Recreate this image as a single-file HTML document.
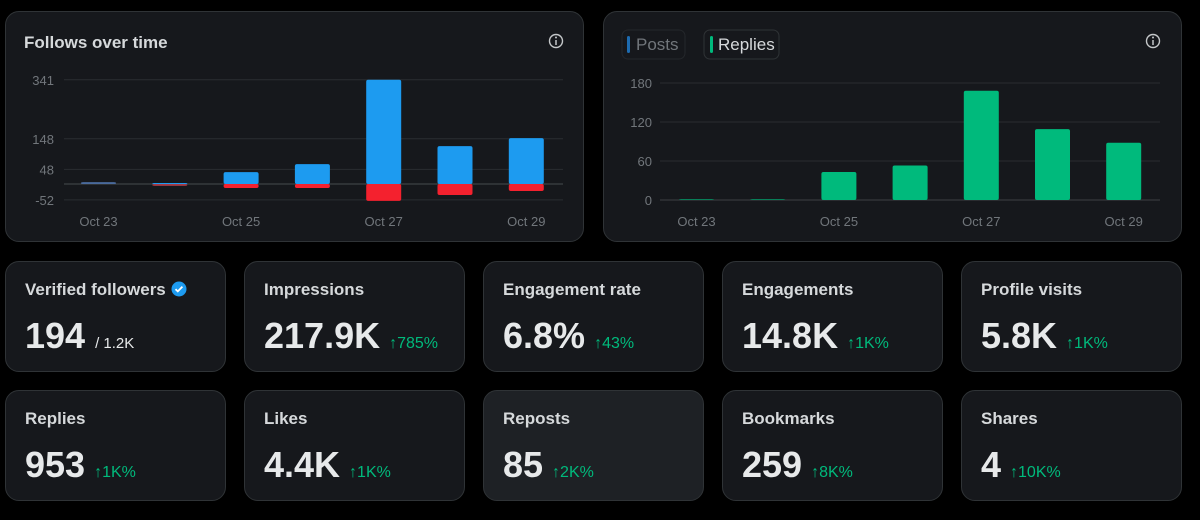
<!DOCTYPE html>
<html><head><meta charset="utf-8">
<style>
body{margin:0;width:1200px;height:520px;background:#000;font-family:"Liberation Sans",sans-serif;position:relative;overflow:hidden;color:#e7e9ea}
.card{position:absolute;background:#16181c;border:1px solid #2f3336;border-radius:14px;box-sizing:border-box}
.stat{width:221px;height:111px}
.stat .t{position:absolute;left:19px;top:18px;font-size:17px;font-weight:bold;color:#d6d9db}
.stat .v{position:absolute;left:19px;top:53px;font-size:36px;font-weight:bold;color:#e7e9ea;white-space:nowrap}
.stat .d{font-size:16px;font-weight:normal;color:#00ba7c;margin-left:9px}
.stat .s{font-size:15px;font-weight:normal;color:#e7e9ea;margin-left:10px}
svg text{font-family:"Liberation Sans",sans-serif}
</style></head><body>
<div class="card" style="left:5px;top:11px;width:579px;height:231px"></div>
<div class="card" style="left:603px;top:11px;width:579px;height:231px"></div>
<svg width="1200" height="250" style="position:absolute;left:0;top:0">
<text x="24" y="48" font-size="17" font-weight="bold" fill="#d6d9db">Follows over time</text>
<g><circle cx="556" cy="41" r="6.5" fill="none" stroke="#c4c7c9" stroke-width="1.4"/><line x1="556" y1="40" x2="556" y2="45" stroke="#c4c7c9" stroke-width="1.5"/><circle cx="556" cy="37.5" r="1" fill="#c4c7c9"/></g>
<g><circle cx="1153" cy="41" r="6.5" fill="none" stroke="#c4c7c9" stroke-width="1.4"/><line x1="1153" y1="40" x2="1153" y2="45" stroke="#c4c7c9" stroke-width="1.5"/><circle cx="1153" cy="37.5" r="1" fill="#c4c7c9"/></g>
<g><rect x="622" y="30" width="63" height="29" rx="6" fill="#16181c" stroke="#24272b"/><rect x="627" y="36" width="3" height="17" rx="1.5" fill="#1d6bb0"/><text x="636" y="50" font-size="17" fill="#71767b">Posts</text></g>
<g><rect x="704" y="30" width="75" height="29" rx="6" fill="#16181c" stroke="#2f3336"/><rect x="710" y="36" width="3" height="17" rx="1.5" fill="#00ba7c"/><text x="718" y="50" font-size="17" fill="#d6d9db">Replies</text></g>
<g id="left"></g><g id="right"></g>
</svg>
<script>
const NS="http://www.w3.org/2000/svg";
const dates=["Oct 23","Oct 24","Oct 25","Oct 26","Oct 27","Oct 28","Oct 29"];
const gained=[6,0,39,65,341,124,150];
const lost=[0,-6,-13,-13,-55,-36,-23];
const replies=[1,1,43,53,168,109,88];
const leftTicks=[341,148,48,-52];
const rightTicks=[180,120,60,0];
function mk(p,tag,a){const e=document.createElementNS(NS,tag);for(const k in a)e.setAttribute(k,a[k]);p.appendChild(e);return e;}
const L=document.getElementById('left');
const ly=v=>184-v*0.3057, lx=i=>98.5+i*71.3;
leftTicks.forEach(t=>{const g=mk(L,'line',{x1:64,x2:563,y1:ly(t),y2:ly(t),stroke:'#2a2d31','stroke-width':1});


const tx=mk(L,'text',{x:54,y:ly(t)+5,'font-size':13,fill:'#71767b','text-anchor':'end'});tx.textContent=t;

});
const z=mk(L,'line',{x1:64,x2:563,y1:ly(0),y2:ly(0),stroke:'#3e4144','stroke-width':1.2});
dates.forEach((d,i)=>{
 const h=Math.max(gained[i]*0.3057,1);
 const b=mk(L,'rect',{x:lx(i)-17.5,y:ly(0)-h,width:35,height:h,rx:2,fill:i==0?'#4a6a9c':'#1d9bf0'});
 
 
 const h2=Math.max(-lost[i]*0.3057,i==0?0:1);
 const r=mk(L,'rect',{x:lx(i)-17.5,y:ly(0),width:35,height:h2,rx:2,fill:i==1?'#a33a45':'#f4212e'});
 
 
 if(i%2==0){const t=mk(L,'text',{x:lx(i),y:226,'font-size':13,fill:'#71767b','text-anchor':'middle'});t.textContent=d;
 
 }
});
const R=document.getElementById('right');
const ry=v=>200-v*0.65, rx=i=>696.5+i*71.2;
rightTicks.forEach(t=>{const g=mk(R,'line',{x1:660,x2:1160,y1:ry(t),y2:ry(t),stroke:t==0?'#3e4144':'#2a2d31','stroke-width':1});


const tx=mk(R,'text',{x:652,y:ry(t)+5,'font-size':13,fill:'#71767b','text-anchor':'end'});tx.textContent=t;

});
dates.forEach((d,i)=>{
 const h=replies[i]*0.65;
 const b=mk(R,'rect',{x:rx(i)-17.5,y:ry(0)-h,width:35,height:h,rx:2,fill:'#00ba7c'});
 
 
 if(i%2==0){const t=mk(R,'text',{x:rx(i),y:226,'font-size':13,fill:'#71767b','text-anchor':'middle'});t.textContent=d;
 
 }
});
</script>
<div class="card stat" style="left:5px;top:261px"><div class="t">Verified followers <svg width="16" height="16" viewBox="0 0 16 16" style="vertical-align:-2px"><circle cx="8" cy="8" r="7.5" fill="#1d9bf0"/><path d="M4.5 8.2l2.3 2.2 4.6-4.8" stroke="#fff" stroke-width="1.8" fill="none"/></svg></div><div class="v">194<span class="s">/ 1.2K</span></div></div>
<div class="card stat" style="left:244px;top:261px"><div class="t">Impressions</div><div class="v">217.9K<span class="d">↑785%</span></div></div>
<div class="card stat" style="left:483px;top:261px"><div class="t">Engagement rate</div><div class="v">6.8%<span class="d">↑43%</span></div></div>
<div class="card stat" style="left:722px;top:261px"><div class="t">Engagements</div><div class="v">14.8K<span class="d">↑1K%</span></div></div>
<div class="card stat" style="left:961px;top:261px"><div class="t">Profile visits</div><div class="v">5.8K<span class="d">↑1K%</span></div></div>
<div class="card stat" style="left:5px;top:390px"><div class="t">Replies</div><div class="v">953<span class="d">↑1K%</span></div></div>
<div class="card stat" style="left:244px;top:390px"><div class="t">Likes</div><div class="v">4.4K<span class="d">↑1K%</span></div></div>
<div class="card stat" style="left:483px;top:390px;background:#1e2125"><div class="t">Reposts</div><div class="v">85<span class="d">↑2K%</span></div></div>
<div class="card stat" style="left:722px;top:390px"><div class="t">Bookmarks</div><div class="v">259<span class="d">↑8K%</span></div></div>
<div class="card stat" style="left:961px;top:390px"><div class="t">Shares</div><div class="v">4<span class="d">↑10K%</span></div></div>
</body></html>
